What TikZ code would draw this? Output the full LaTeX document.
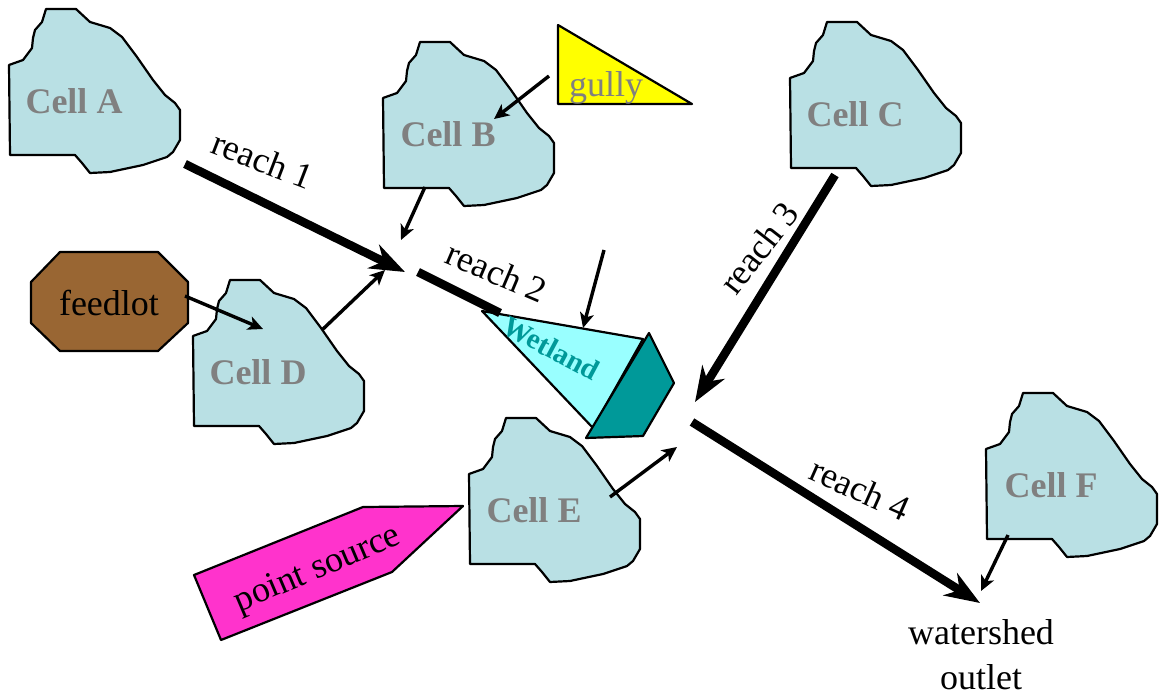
\documentclass[tikz,border=0pt]{standalone}
\usepackage{fontspec}
\setmainfont{Liberation Serif}
\usetikzlibrary{arrows.meta}
\definecolor{cellfill}{RGB}{185,224,228}
\definecolor{cellgray}{RGB}{128,128,128}
\definecolor{wetcyan}{RGB}{153,255,255}
\definecolor{wetteal}{RGB}{0,153,153}
\definecolor{feedbrown}{RGB}{153,102,51}
\definecolor{psmagenta}{RGB}{255,51,204}
\definecolor{gullyyellow}{RGB}{255,255,0}
\tikzset{
  outline/.style={draw=black, line width=2.2pt, line join=round},
  cellbody/.style={outline, fill=cellfill},
  cellpic/.pic={
    \path[cellbody] (46,9) -- (76,9) -- (90,22) -- (110,28) -- (122,37) -- (137,57)
      -- (153,80) -- (165,95) -- (175,103) -- (180,110) -- (180,140) -- (173,152)
      -- (167,157) -- (143,165) -- (110,172) -- (90,173) -- (82,163) -- (75,155)
      -- (10,155) -- (9,65) -- (23,60) -- (32,48) -- (33,38) -- (35,30) -- (42,22) -- cycle;
  },
  celllabel/.style={font=\bfseries\fontsize{36}{40}\selectfont, text=cellgray, anchor=base, inner sep=0pt},
  plainlabel/.style={font=\fontsize{36}{40}\selectfont, inner sep=0pt},
  reachline/.style={line width=8.5pt, -{Stealth[length=35pt,width=26pt,inset=11pt]}},
  thinarrow/.style={line width=3.4pt, -{Stealth[length=15pt,width=14pt,inset=4pt]}},
}
\begin{document}
\begin{tikzpicture}[x=1pt, y=-1pt]
\useasboundingbox (0,0) rectangle (1161,696);
% cells
\pic at (0,0) {cellpic};
\pic at (374,33) {cellpic};
\pic at (781,13) {cellpic};
\pic at (184,271) {cellpic};
\pic at (460,409) {cellpic};
\pic at (977,384) {cellpic};
\node[celllabel] (cellA) at (74,113) {Cell A};
\node[celllabel] (cellB) at (448,146) {Cell B};
\node[celllabel] (cellC) at (855,126) {Cell C};
\node[celllabel] (cellD) at (258,384) {Cell D};
\node[celllabel] (cellE) at (534,522) {Cell E};
\node[celllabel] (cellF) at (1051,497) {Cell F};

% gully
\path[outline, fill=gullyyellow] (558,25) -- (558,104) -- (692,104) -- cycle;
\node[plainlabel, text=cellgray, anchor=base] (gully) at (606,96) {gully};

% feedlot
\path[outline, fill=feedbrown] (60,252) -- (158,252) -- (188,282) -- (188,323)
  -- (158,351) -- (60,351) -- (31,323) -- (31,282) -- cycle;
\node[plainlabel, anchor=base] (feedlot) at (109,315) {feedlot};

% point source
\path[outline, fill=psmagenta] (194,575) -- (363,507) -- (463,506) -- (392,572) -- (221,640) -- cycle;
\node[plainlabel, rotate=23] (psrc) at (318,570) {point source};

% wetland
\path[outline, fill=wetcyan] (482,311) -- (643,339) -- (593,428) -- cycle;
\path[outline, fill=wetteal] (649,333) -- (674,383) -- (643,436) -- (586,438) -- cycle;
\node[font=\bfseries\fontsize{29}{32}\selectfont, text=wetteal, rotate=-28, inner sep=0pt] (wetland) at (551,348) {Wetland};

% connector endpoints
\coordinate (r1s) at (185,164);
\coordinate (r1e) at (405,272);
\coordinate (r2s) at (418,272);
\coordinate (r2e) at (500,313);
\coordinate (r3s) at (835,175);
\coordinate (r3e) at (695,402);
\coordinate (r4s) at (692,422);
\coordinate (r4e) at (980,603);
\coordinate (gullyT) at (549,76);
\coordinate (gullyH) at (494,119);
\coordinate (cellBT) at (425,187);
\coordinate (cellBH) at (401,240);
\coordinate (feedT) at (185,296);
\coordinate (feedH) at (263,329);
\coordinate (cellDT) at (322,330);
\coordinate (cellDH) at (385,270);
\coordinate (wetT) at (604,250);
\coordinate (wetH) at (583,328);
\coordinate (cellET) at (610,497);
\coordinate (cellEH) at (677,447);
\coordinate (cellFT) at (1008,535);
\coordinate (cellFH) at (981,591);

% reaches
\draw[reachline] (r1s) -- (r1e);
\draw[line width=8.5pt] (r2s) -- (r2e);
\draw[reachline] (r3s) -- (r3e);
\draw[reachline] (r4s) -- (r4e);

% thin arrows
\draw[thinarrow] (gullyT) -- (gullyH);
\draw[thinarrow] (cellBT) -- (cellBH);
\draw[thinarrow] (feedT) -- (feedH);
\draw[thinarrow] (cellDT) -- (cellDH);
\draw[thinarrow] (wetT) -- (wetH);
\draw[thinarrow] (cellET) -- (cellEH);
\draw[thinarrow] (cellFT) -- (cellFH);

% reach labels
\node[plainlabel, rotate=-21] (reach1) at (263,160) {reach 1};
\node[plainlabel, rotate=-23] (reach2) at (497,272) {reach 2};
\node[plainlabel, rotate=52] (reach3) at (759,248) {reach 3};
\node[plainlabel, rotate=-24] (reach4) at (860,489) {reach 4};

% outlet
\node[font=\fontsize{36}{45}\selectfont, align=center, inner sep=0pt] (outlet) at (981,655) {watershed\\outlet};
\end{tikzpicture}
\end{document}
